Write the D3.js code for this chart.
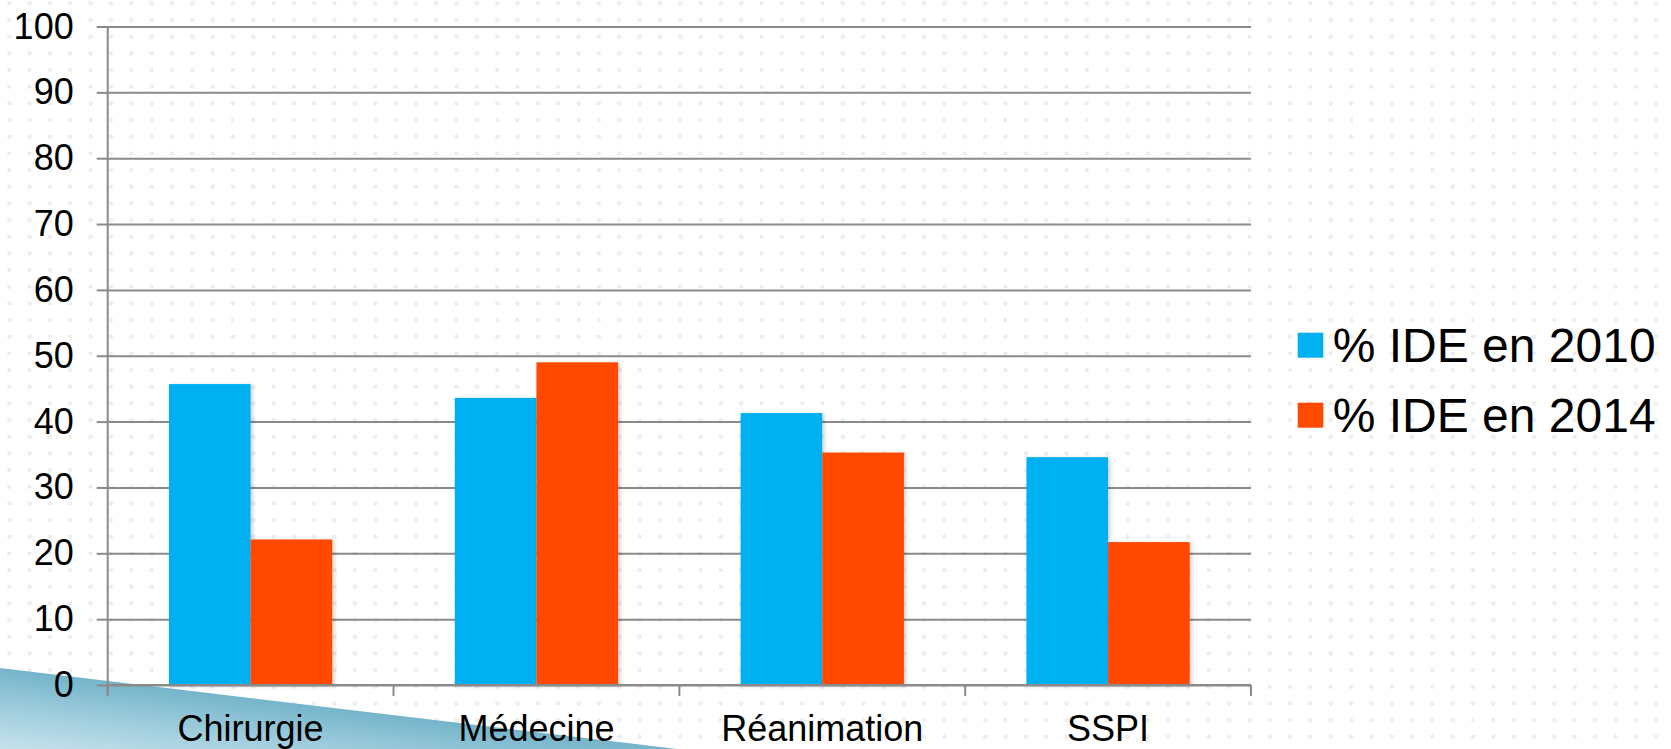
<!DOCTYPE html>
<html lang="fr">
<head>
<meta charset="utf-8">
<script src="https://cdn.jsdelivr.net/npm/d3@7"></script>
<style>
  html, body { margin: 0; padding: 0; background: #ffffff; }
  svg { display: block; font-family: "Liberation Sans", Arial, sans-serif; }
</style>
</head>
<body>
<svg id="chart" width="1671" height="749"></svg>
<script>
// Share of IDE (nurses) per department, 2010 vs 2014
const categories = ["Chirurgie", "Médecine", "Réanimation", "SSPI"];
const seriesNames = ["% IDE en 2010", "% IDE en 2014"];
const values2010 = [45.7, 43.6, 41.3, 34.6];
const values2014 = [22.1, 49.0, 35.3, 21.7];
const yTicks = [0, 10, 20, 30, 40, 50, 60, 70, 80, 90, 100];
const seriesColors = ["#00b0f0", "#ff4a00"];

const svg = d3.select("#chart");
const W = 1671, H = 749;
const plot = { left: 107.7, right: 1251, top: 26.5, bottom: 685 };

const defs = svg.append("defs");

// dotted slide background
const pat = defs.append("pattern")
  .attr("id", "dots")
  .attr("patternUnits", "userSpaceOnUse")
  .attr("x", -0.85).attr("y", -5.0)
  .attr("width", 20.33).attr("height", 16.67);
pat.append("circle")
  .attr("cx", 10.17).attr("cy", 8.33).attr("r", 1.5)
  .attr("fill", "none").attr("stroke", "#e0e0e0").attr("stroke-width", 1);

// corner decoration: darker along its slanted edge, fading lighter towards the corner
const grad = defs.append("linearGradient")
  .attr("id", "corner")
  .attr("gradientUnits", "userSpaceOnUse")
  .attr("x1", 0).attr("y1", 668).attr("x2", -9.5).attr("y2", 747.5);
grad.append("stop").attr("offset", "0").attr("stop-color", "#74b4ca");
grad.append("stop").attr("offset", "0.5").attr("stop-color", "#9fcddd");
grad.append("stop").attr("offset", "1").attr("stop-color", "#c6e2ec");

// soft shadow under bars
const shadow = defs.append("filter").attr("id", "barShadow")
  .attr("x", "-10%").attr("y", "-10%").attr("width", "130%").attr("height", "130%");
shadow.append("feDropShadow")
  .attr("dx", 2).attr("dy", 1).attr("stdDeviation", 2)
  .attr("flood-color", "#000").attr("flood-opacity", 0.18);

svg.append("rect").attr("width", W).attr("height", H).attr("fill", "url(#dots)");

// corner decoration
svg.append("path")
  .attr("d", "M0,668 L677,749 L0,749 Z")
  .attr("fill", "url(#corner)");

// scales
const x0 = d3.scaleBand().domain(categories).range([plot.left, plot.right]).padding(0);
const x1 = d3.scaleBand().domain(seriesNames).range([0, x0.bandwidth()])
  .paddingInner(0).paddingOuter(0.75);
const y = d3.scaleLinear().domain([0, 100]).range([plot.bottom, plot.top]);

const gridColor = "#8a8a8a";

// horizontal gridlines
svg.append("g")
  .attr("transform", `translate(${plot.left},0)`)
  .call(d3.axisLeft(y).tickValues(yTicks).tickSize(-(plot.right - plot.left)).tickFormat(""))
  .call(g => g.select(".domain").remove())
  .call(g => g.selectAll("line").attr("stroke", gridColor).attr("stroke-width", 2));

// bars
const rows = categories.map((c, i) => ({ cat: c, vals: [values2010[i], values2014[i]] }));
const groups = svg.append("g").selectAll("g").data(rows).join("g")
  .attr("transform", d => `translate(${x0(d.cat)},0)`);
groups.selectAll("rect")
  .data(d => d.vals.map((v, k) => ({ name: seriesNames[k], v, k })))
  .join("rect")
  .attr("x", d => x1(d.name))
  .attr("width", x1.bandwidth())
  .attr("y", d => y(d.v))
  .attr("height", d => y(0) - y(d.v))
  .attr("fill", d => seriesColors[d.k])
  .attr("filter", "url(#barShadow)");

// y axis
svg.append("g")
  .attr("transform", `translate(${plot.left},0)`)
  .call(d3.axisLeft(y).tickValues(yTicks).tickSize(11).tickPadding(23).tickFormat(d3.format("d")))
  .call(g => g.select(".domain").attr("stroke", gridColor).attr("stroke-width", 2)
      .attr("d", `M0,${plot.top}V${plot.bottom + 11}`))
  .call(g => g.selectAll("line").attr("stroke", gridColor).attr("stroke-width", 2))
  .call(g => g.selectAll("text")
      .attr("fill", "#000")
      .style("font-family", "'Liberation Sans', Arial, sans-serif")
      .style("font-size", "36px"));

// x axis: baseline, boundary ticks, centred labels
const xAxis = svg.append("g");
xAxis.append("line")
  .attr("x1", plot.left).attr("x2", plot.right)
  .attr("y1", y(0)).attr("y2", y(0))
  .attr("stroke", gridColor).attr("stroke-width", 2);
const bounds = categories.map(c => x0(c)).concat([x0.range()[1]]);
xAxis.selectAll("line.tick").data(bounds).join("line")
  .attr("class", "tick")
  .attr("x1", d => d).attr("x2", d => d)
  .attr("y1", y(0)).attr("y2", y(0) + 11)
  .attr("stroke", gridColor).attr("stroke-width", 2);
xAxis.selectAll("text").data(categories).join("text")
  .attr("x", d => x0(d) + x0.bandwidth() / 2)
  .attr("y", 741)
  .attr("text-anchor", "middle")
  .attr("fill", "#000")
  .style("font-size", "36px")
  .text(d => d);

// legend
const legend = svg.append("g");
const legendItems = legend.selectAll("g").data(seriesNames).join("g")
  .attr("transform", (d, i) => `translate(1297.7,${361.7 + i * 70})`);
legendItems.append("rect")
  .attr("x", 0).attr("y", -29).attr("width", 25.6).attr("height", 25)
  .attr("fill", (d, i) => seriesColors[i]);
legendItems.append("text")
  .attr("x", 35).attr("y", 0)
  .attr("fill", "#000")
  .style("font-size", "48px")
  .text(d => d);
</script>
</body>
</html>
